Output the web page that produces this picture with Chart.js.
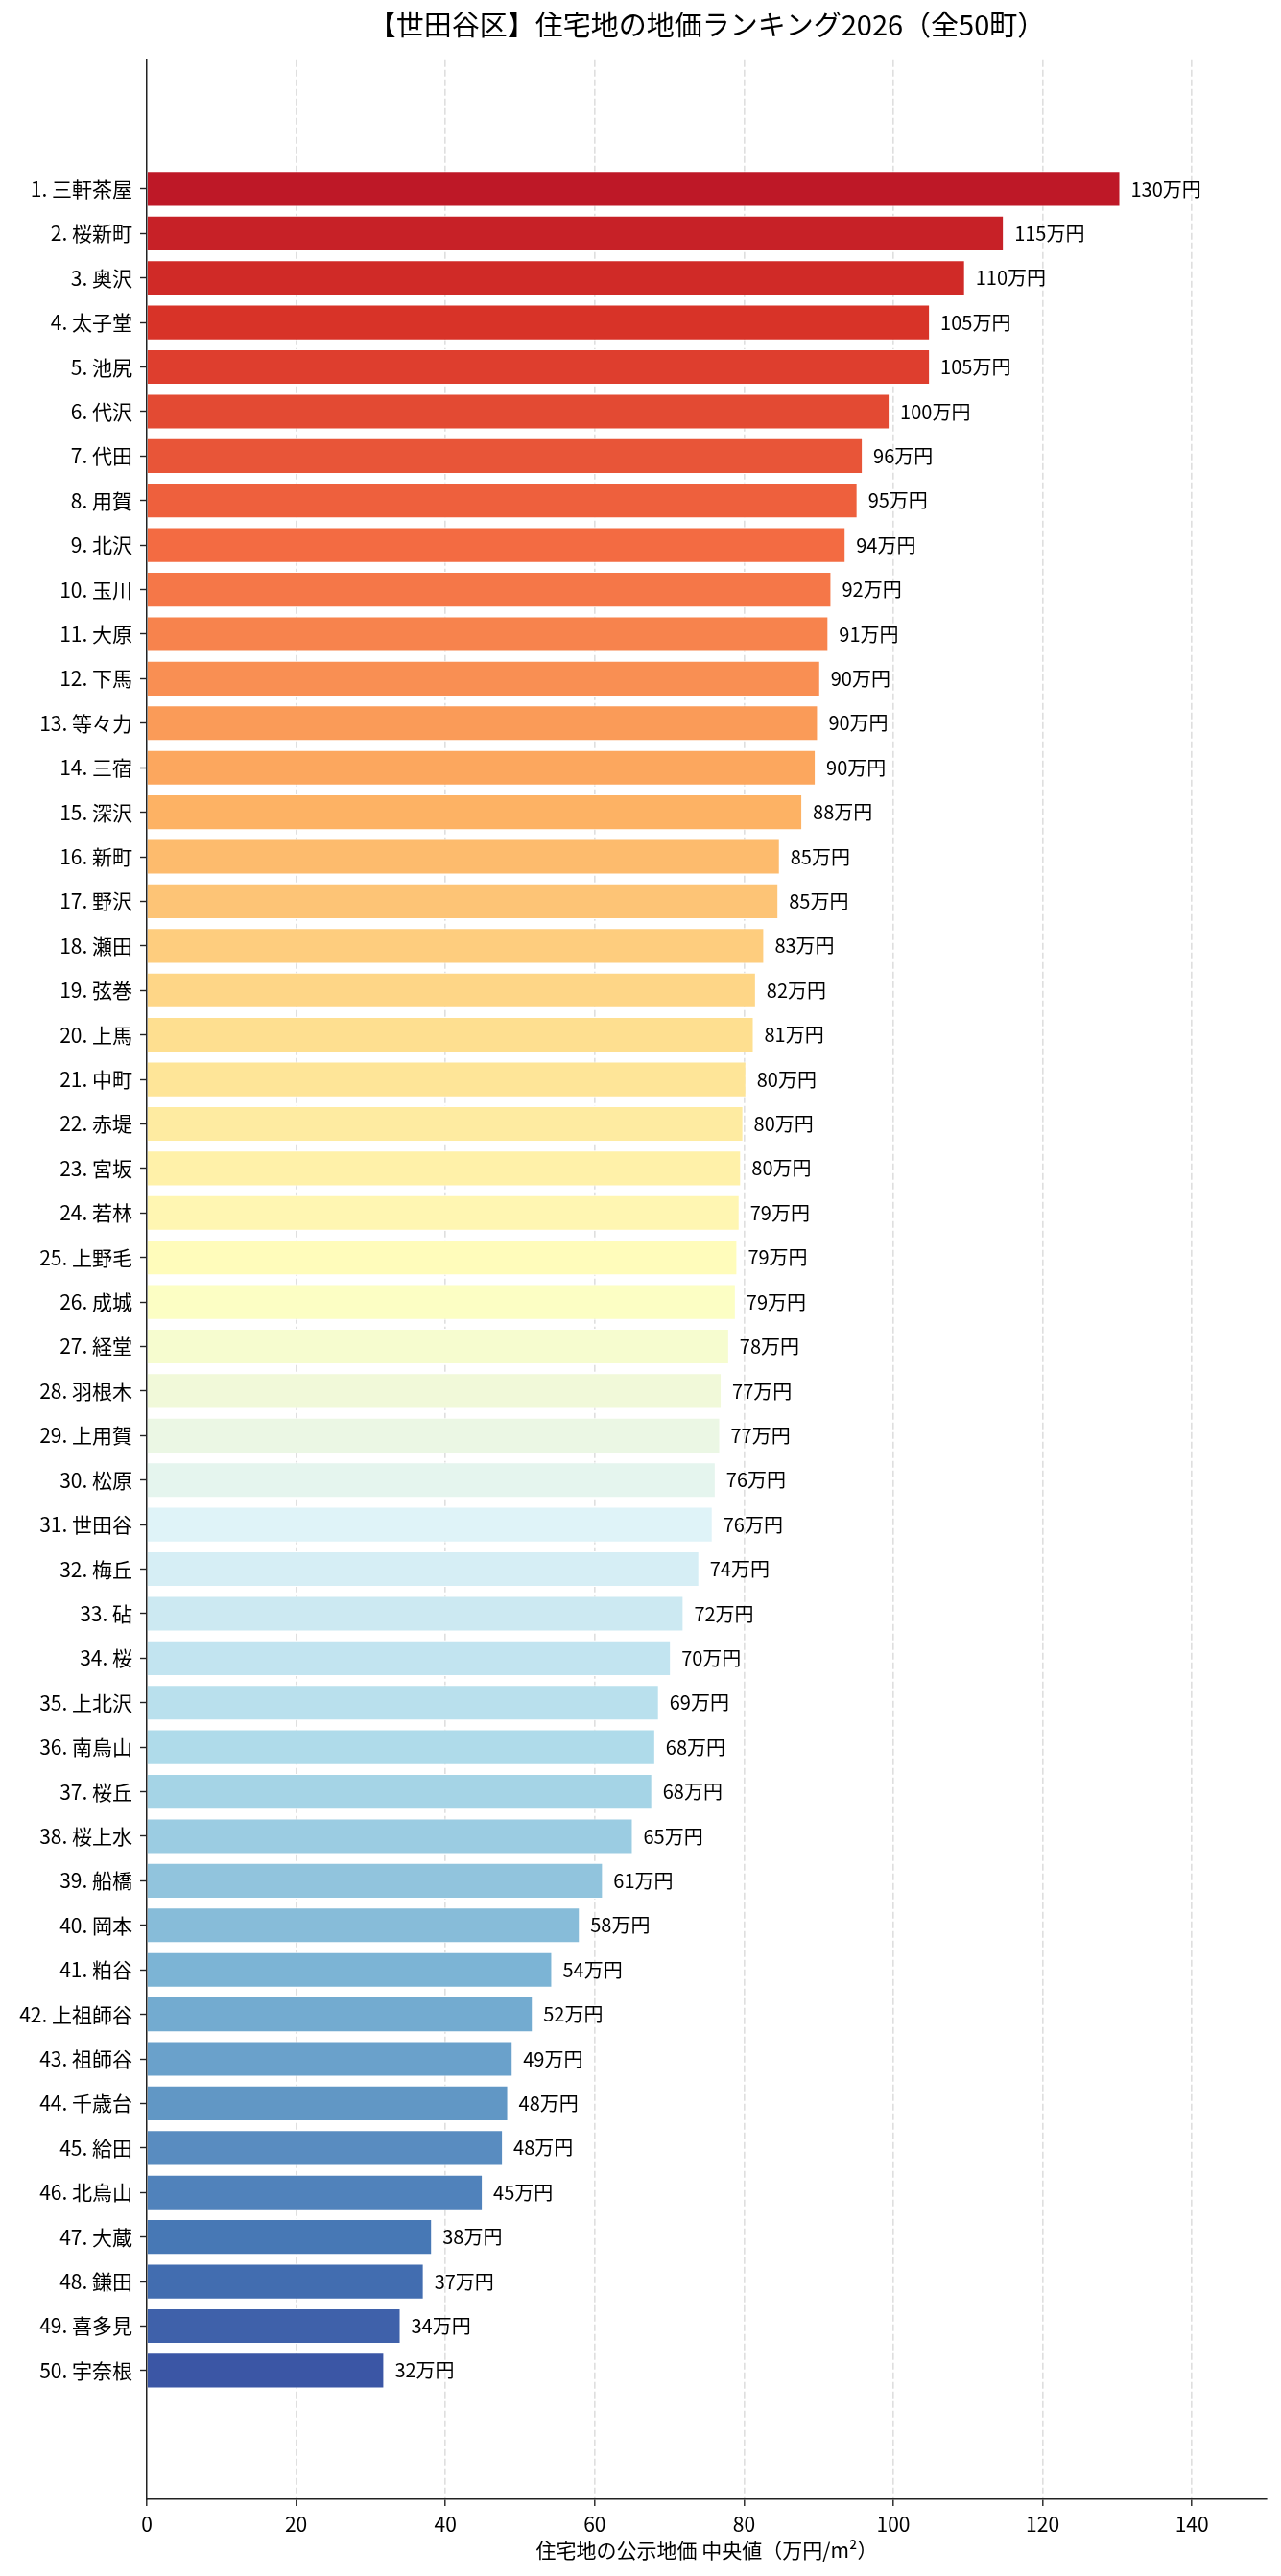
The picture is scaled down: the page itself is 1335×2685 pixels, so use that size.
<!DOCTYPE html>
<html lang="ja">
<head>
<meta charset="utf-8">
<title>世田谷区 住宅地の地価ランキング2026</title>
<script src="https://cdn.jsdelivr.net/npm/chart.js@4.4.1/dist/chart.umd.min.js"></script>
<style>
  html, body { margin: 0; padding: 0; background: #fff; }
  canvas { display: block; }
</style>
</head>
<body>
<canvas id="rankChart" width="1335" height="2685"></canvas>
<script>
// 町名（順位順）
const towns = [
    '三軒茶屋', '桜新町', '奥沢', '太子堂', '池尻', '代沢', '代田', '用賀', '北沢', '玉川',
    '大原', '下馬', '等々力', '三宿', '深沢', '新町', '野沢', '瀬田', '弦巻', '上馬',
    '中町', '赤堤', '宮坂', '若林', '上野毛', '成城', '経堂', '羽根木', '上用賀', '松原',
    '世田谷', '梅丘', '砧', '桜', '上北沢', '南烏山', '桜丘', '桜上水', '船橋', '岡本',
    '粕谷', '上祖師谷', '祖師谷', '千歳台', '給田', '北烏山', '大蔵', '鎌田', '喜多見', '宇奈根'
];

// 公示地価の中央値（万円/m²）
const prices = [
    130.4, 114.8, 109.6, 104.9, 104.9, 99.5, 95.9, 95.2, 93.6, 91.7,
    91.3, 90.2, 89.9, 89.6, 87.8, 84.8, 84.6, 82.7, 81.6, 81.3,
    80.3, 79.9, 79.6, 79.4, 79.1, 78.9, 78.0, 77.0, 76.8, 76.2,
    75.8, 74.0, 71.9, 70.2, 68.6, 68.1, 67.7, 65.1, 61.1, 58.0,
    54.3, 51.7, 49.0, 48.4, 47.7, 45.0, 38.2, 37.1, 34.0, 31.8
];

const xTicks = [0, 20, 40, 60, 80, 100, 120, 140];

const FONT = '"Noto Sans CJK JP", "Noto Sans", sans-serif';

// RdYlBu (matplotlib) — 上位ほど赤
const rdylbu = [
    [165, 0, 38], [215, 48, 39], [244, 109, 67], [253, 174, 97], [254, 224, 144],
    [255, 255, 191], [224, 243, 248], [171, 217, 233], [116, 173, 209], [69, 117, 180], [49, 54, 149]
];
function cmap(t) {
    const p = t * 10;
    const i = Math.min(9, Math.floor(p));
    const f = p - i;
    const a = rdylbu[i], b = rdylbu[i + 1];
    const c = a.map((v, k) => Math.round(v + (b[k] - v) * f));
    return 'rgb(' + c.join(',') + ')';
}
const barColors = towns.map((_, i) => cmap(0.05 + 0.9 * i / (towns.length - 1)));

const valueLabels = {
    id: 'valueLabels',
    afterDraw(chart) {
        const ctx = chart.ctx;
        const meta = chart.getDatasetMeta(0);
        ctx.save();
        ctx.font = '20px ' + FONT;
        ctx.fillStyle = '#000';
        ctx.textBaseline = 'middle';
        ctx.textAlign = 'left';
        meta.data.forEach(function (bar, i) {
            ctx.fillText(Math.round(prices[i]) + '万円', bar.x + 11, bar.y);
        });
        ctx.restore();
    }
};

Chart.defaults.color = '#000';
Chart.defaults.font.family = FONT;

new Chart(document.getElementById('rankChart'), {
    type: 'bar',
    data: {
        datasets: [{
            data: prices.map((v, i) => ({ x: v, y: i })),
            backgroundColor: barColors,
            borderColor: '#ffffff',
            borderWidth: 1,
            barPercentage: 0.8,
            categoryPercentage: 1.0
        }]
    },
    options: {
        indexAxis: 'y',
        responsive: false,
        animation: false,
        devicePixelRatio: 1,
        layout: { padding: { top: 0, right: 15, bottom: 0, left: 0 } },
        plugins: {
            legend: { display: false },
            tooltip: { enabled: false },
            title: {
                display: true,
                fullSize: false,
                text: '【世田谷区】住宅地の地価ランキング2026（全50町）',
                font: { size: 29, weight: 'normal', family: FONT },
                color: '#000',
                padding: { top: 9, bottom: 19 }
            }
        },
        scales: {
            x: {
                type: 'linear',
                min: 0,
                max: 150,
                z: 1,
                afterFit: function (scale) { scale.height = 80; },
                afterBuildTicks: function (axis) {
                    axis.ticks = xTicks.map(v => ({ value: v }));
                },
                ticks: {
                    font: { size: 21 },
                    padding: 6,
                    includeBounds: false,
                    callback: v => String(v)
                },
                grid: {
                    color: ctx => (ctx.tick && ctx.tick.value === 0) ? 'rgba(0,0,0,0)' : 'rgba(185,185,185,0.45)',
                    lineWidth: 1.6,
                    drawTicks: true,
                    tickLength: 7,
                    tickColor: '#222',
                    tickWidth: 1.4
                },
                border: { display: true, color: '#222', width: 1.5, dash: [7, 3] },
                title: {
                    display: true,
                    text: '住宅地の公示地価 中央値（万円/m²）',
                    font: { size: 21 },
                    padding: { top: 0, bottom: 14 }
                }
            },
            y: {
                type: 'linear',
                min: -2.89,
                max: 51.89,
                reverse: true,
                offset: false,
                z: 1,
                afterFit: function (scale) { scale.width = 153; },
                afterBuildTicks: function (axis) {
                    axis.ticks = towns.map((_, i) => ({ value: i }));
                },
                ticks: {
                    autoSkip: false,
                    font: { size: 21 },
                    padding: 8,
                    callback: v => (v + 1) + '. ' + towns[v]
                },
                grid: {
                    offset: false,
                    drawOnChartArea: false,
                    drawTicks: true,
                    tickLength: 7,
                    tickColor: '#222',
                    tickWidth: 1.4
                },
                border: { display: true, color: '#222', width: 1.5 }
            }
        }
    },
    plugins: [valueLabels]
});
</script>
</body>
</html>
